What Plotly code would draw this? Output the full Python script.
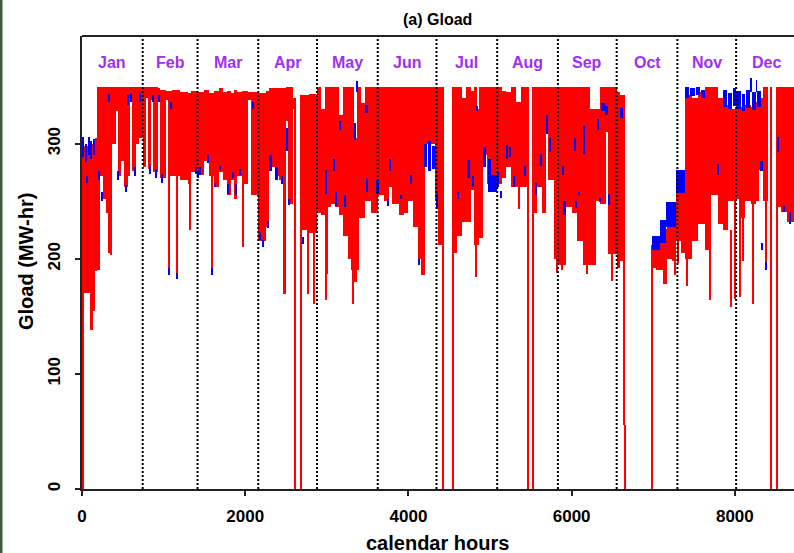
import plotly.graph_objects as go

# ---------------- data ----------------
# red series: piecewise segments (start hour, upper value, lower value)
red_start = [0, 100, 130, 160, 180, 215, 260, 300, 320, 345, 370, 420, 440, 480, 520, 560, 590, 615, 660, 700,
             744, 788, 808, 850, 870, 930, 950, 1032, 1052, 1100, 1200, 1300, 1340,
             1416, 1500, 1560, 1620, 1680, 1730, 1780, 1820, 1860, 1900, 1960, 2030, 2075,
             2160, 2250, 2290, 2360, 2420, 2465, 2500, 2530, 2580, 2615, 2680, 2780,
             2880, 2930, 2975, 3050, 3100, 3155, 3200, 3260, 3300, 3330, 3365, 3400, 3420, 3465, 3540,
             3624, 3700, 3760, 3800, 3880, 3940, 4000, 4060, 4120, 4160, 4200,
             4330, 4360, 4425, 4545, 4600, 4660, 4710, 4770, 4800, 4835, 4870, 4910, 4960,
             5088, 5150, 5200, 5262, 5320, 5385, 5466, 5527, 5580, 5640, 5690, 5712, 5790,
             5832, 5930, 6000, 6060, 6140, 6220, 6300, 6344, 6420, 6447, 6490,
             6550, 6590, 6660, 6990, 7030, 7080, 7120, 7165, 7225, 7285, 7340,
             7390, 7470, 7550, 7631, 7713, 7790, 7850, 7920,
             8016, 8080, 8125, 8200, 8265, 8300, 8345, 8410, 8515, 8560, 8640]
red_hi = [298, 300, 302, 305, 349, 349, 349, 349, 349, 349, 349, 349, 349, 349, 349, 349, 349, 349, 349, 349,
          349, 349, 349, 349, 349, 348, 347, 346, 346, 347, 345, 344, 346,
          345, 347, 344, 346, 348, 345, 346, 344, 347, 345, 346, 345, 345,
          344, 346, 348, 348, 348, 348, 349, 349, 340, 0, 342, 343,
          349, 330, 349, 349, 349, 325, 349, 349, 349, 305, 349, 349, 335, 349, 349,
          349, 349, 349, 349, 349, 349, 349, 349, 349, 349, 349,
          349, 349, 0, 349, 349, 340, 349, 346, 349, 330, 349, 349, 349,
          349, 346, 345, 349, 336, 349, 0, 349, 349, 349, 349, 349, 349,
          349, 349, 349, 349, 349, 330, 330, 349, 349, 349, 349,
          345, 342, 0, 212, 214, 222, 226, 234, 240, 257, 262,
          342, 340, 345, 349, 349, 340, 334, 330,
          330, 332, 334, 332, 336, 340, 349, 0, 349, 349, 349]
red_lo = [170, 138, 155, 189, 190, 272, 252, 240, 205, 203, 300, 328, 272, 285, 262, 272, 340, 276, 300, 305,
          280, 340, 278, 338, 275, 338, 270, 338, 272, 272, 268, 265, 275,
          273, 285, 272, 262, 275, 268, 255, 268, 252, 272, 265, 338, 255,
          215, 228, 280, 272, 268, 169, 320, 248, 330, 0, 225, 222,
          240, 238, 245, 248, 245, 238, 220, 200, 190, 180, 190, 235, 235, 250, 240,
          255, 250, 262, 248, 238, 240, 250, 228, 200, 186, 300,
          250, 212, 0, 205, 220, 232, 232, 260, 212, 212, 218, 290, 265,
          265, 270, 280, 262, 262, 262, 0, 240, 262, 240, 325, 268, 200,
          195, 245, 240, 215, 195, 195, 250, 248, 310, 204, 204,
          192, 198, 0, 192, 190, 190, 178, 200, 198, 215, 205,
          200, 215, 230, 208, 255, 230, 225, 250,
          252, 235, 250, 248, 250, 277, 250, 0, 245, 241, 232]
year_end = 8760

# narrow downward excursions of the red series (hour, lowest value, value they start from)
spike_hour = [20, 1066, 1168, 1330, 1593, 1973, 2615, 2680, 2770, 2845, 2990, 3010, 3320,
              4425, 4545, 4832, 5352, 5466, 5527, 5826, 5880, 6190, 6500, 6648, 6660, 6990,
              7265, 7310, 7420, 7700, 7950, 8000, 8060, 8100, 8230, 8380, 8448, 8513]
spike_low = [0, 190, 186, 225, 190, 210, 0, 0, 169, 161, 164, 187, 161,
             0, 0, 184, 243, 0, 0, 188, 190, 187, 181, 56, 0, 0,
             186, 196, 176, 164, 158, 165, 167, 198, 161, 192, 0, 0]
spike_top = [298, 272, 272, 265, 272, 272, 340, 342, 225, 222, 245, 245, 190,
             349, 349, 212, 262, 349, 349, 200, 195, 195, 204, 342, 56, 212,
             198, 215, 200, 208, 225, 250, 252, 235, 248, 250, 349, 349]

# blue series: places where it shows (start hour, end hour, lower value, upper value)
blue_start = [10, 38, 60, 70, 105, 135, 200, 245, 330, 440, 535, 555, 600, 640, 700,
              825, 855, 895, 940, 975, 1060, 1090, 1162, 1395,
              1420, 1445, 1535, 1588, 1620, 1680, 1785, 1845, 1885, 1925, 2085,
              2175, 2215, 2270, 2290, 2365, 2440, 2500, 2535, 2700,
              2975, 3085, 3110, 3155, 3215, 3335, 3362, 3480, 3490, 3600,
              3740, 3770, 3900, 4025, 4118, 4190, 4240, 4290,
              4344, 4600, 4720, 4780, 4840, 4914, 4975, 5016,
              5088, 5125, 5200, 5240, 5290, 5420, 5555, 5610, 5692, 5725,
              5895, 5890, 6038, 6050, 6090, 6140, 6320, 6340, 6365, 6406, 6455, 6595,
              6990, 7080, 7160, 7285,
              7390, 7455, 7525, 7585, 7790, 7850, 7912, 7972,
              8016, 8082, 8140, 8198, 8210, 8260, 8270, 8305, 8330, 8375, 8522, 8600, 8665]
blue_end = [30, 58, 70, 95, 125, 160, 215, 260, 345, 455, 548, 570, 615, 655, 712,
            840, 880, 910, 952, 990, 1072, 1104, 1174, 1410,
            1432, 1460, 1550, 1600, 1635, 1695, 1800, 1858, 1900, 1940, 2105,
            2190, 2230, 2285, 2330, 2400, 2460, 2520, 2550, 2715,
            3005, 3100, 3125, 3175, 3230, 3360, 3375, 3500, 3510, 3640,
            3755, 3790, 3915, 4045, 4140, 4230, 4280, 4335,
            4360, 4615, 4760, 4800, 4850, 4955, 5016, 5080,
            5110, 5140, 5220, 5262, 5305, 5440, 5570, 5640, 5710, 5740,
            5930, 5900, 6050, 6065, 6105, 6152, 6332, 6352, 6406, 6447, 6470, 6625,
            7080, 7160, 7285, 7390,
            7440, 7510, 7570, 7630, 7805, 7900, 7960, 8016,
            8070, 8130, 8190, 8208, 8255, 8268, 8325, 8345, 8345, 8392, 8538, 8618, 8680]
blue_lo = [288, 284, 266, 290, 287, 290, 268, 250, 336, 268, 258, 334, 336, 272, 336,
           274, 336, 270, 336, 266, 186, 330, 182, 274,
           270, 273, 283, 186, 262, 277, 256, 270, 255, 273, 330,
           216, 210, 227, 276, 268, 265, 294, 247, 213,
           256, 276, 246, 312, 245, 303, 345, 327, 258, 256,
           246, 276, 252, 265, 195, 280, 276, 278,
           243, 252, 270, 262, 328, 280, 258, 258,
           262, 253, 287, 288, 262, 272, 255, 281, 308, 293,
           238, 273, 294, 244, 255, 291, 312, 249, 328, 325, 247, 322,
           208, 214, 228, 257,
           340, 341, 342, 340, 273, 332, 330, 333,
           330, 328, 331, 345, 329, 345, 332, 276, 208, 190, 293, 241, 230]
blue_hi = [306, 300, 272, 306, 302, 304, 276, 258, 343, 276, 264, 342, 344, 280, 344,
           281, 342, 278, 342, 274, 192, 336, 188, 280,
           276, 280, 290, 192, 266, 281, 265, 275, 265, 278, 336,
           222, 216, 233, 290, 280, 272, 314, 252, 219,
           277, 287, 258, 320, 255, 318, 354, 334, 270, 268,
           252, 287, 255, 273, 200, 300, 302, 298,
           256, 258, 286, 272, 333, 297, 287, 273,
           275, 259, 299, 297, 272, 281, 266, 291, 325, 305,
           250, 281, 305, 250, 258, 315, 321, 253, 335, 333, 256, 331,
           220, 234, 249, 277,
           349, 348, 349, 347, 282, 347, 344, 348,
           346, 343, 347, 357, 345, 355, 346, 285, 214, 197, 306, 246, 241]

month_names = ["Jan", "Feb", "Mar", "Apr", "May", "Jun", "Jul", "Aug", "Sep", "Oct", "Nov", "Dec"]
month_start = [0, 744, 1416, 2160, 2880, 3624, 4344, 5088, 5832, 6552, 7296, 8016]
x_ticks = [0, 2000, 4000, 6000, 8000]
y_ticks = [0, 100, 200, 300]

# ---------------- layout constants ----------------
W, H = 794, 553
ML, MR, MT, MB = 82, 0, 36, 64
PW, PH = W - ML - MR, H - MT - MB
X_MAX = 8725
Y_MAX = 393.5
FONT = "Liberation Sans, Arial, Helvetica, sans-serif"
RED, BLUE, PURPLE = "#ff0000", "#0000ff", "#a030f0"

fig = go.Figure()

# red band
red_end = red_start[1:] + [year_end]
fig.add_trace(go.Bar(
    x=[(s + e) / 2 for s, e in zip(red_start, red_end)],
    y=[h - l for h, l in zip(red_hi, red_lo)],
    base=red_lo,
    width=[e - s for s, e in zip(red_start, red_end)],
    marker=dict(color=RED, line=dict(width=0)),
    hoverinfo="skip", showlegend=False))

# red narrow excursions
fig.add_trace(go.Bar(
    x=spike_hour,
    y=[t - l for t, l in zip(spike_top, spike_low)],
    base=spike_low,
    width=[17] * len(spike_hour),
    marker=dict(color=RED, line=dict(width=0)),
    hoverinfo="skip", showlegend=False))

# blue
fig.add_trace(go.Bar(
    x=[(s + e) / 2 for s, e in zip(blue_start, blue_end)],
    y=[h - l for h, l in zip(blue_hi, blue_lo)],
    base=blue_lo,
    width=[e - s for s, e in zip(blue_start, blue_end)],
    marker=dict(color=BLUE, line=dict(width=0)),
    hoverinfo="skip", showlegend=False))

# dotted month separators
vx, vy = [], []
for m in month_start[1:]:
    vx += [m, m, None]
    vy += [0, Y_MAX, None]
fig.add_trace(go.Scatter(x=vx, y=vy, mode="lines",
                         line=dict(color="black", width=2, dash="2px,2px"),
                         hoverinfo="skip", showlegend=False))

annotations = []
bounds = month_start + [year_end]
for i, name in enumerate(month_names):
    annotations.append(dict(
        x=(bounds[i] + bounds[i + 1]) / 2, xref="x",
        y=(H - MB - 63) / PH, yref="paper",
        text=name, showarrow=False, xanchor="center", yanchor="middle",
        font=dict(family=FONT, size=16, color=PURPLE, weight="bold")))

annotations.append(dict(x=(437 - ML) / PW, xref="paper", y=1 + (MT - 19) / PH, yref="paper",
                        text="(a) Gload", showarrow=False, xanchor="center", yanchor="middle",
                        font=dict(family=FONT, size=16, color="black", weight="bold")))
annotations.append(dict(x=(437 - ML) / PW, xref="paper", y=-(543 - (H - MB)) / PH, yref="paper",
                        text="calendar hours", showarrow=False, xanchor="center", yanchor="middle",
                        font=dict(family=FONT, size=20, color="black", weight="bold")))
annotations.append(dict(x=(26 - ML) / PW, xref="paper", y=(H - MB - 262) / PH, yref="paper",
                        text="Gload (MW-hr)", textangle=-90, showarrow=False,
                        xanchor="center", yanchor="middle",
                        font=dict(family=FONT, size=20, color="black", weight="bold")))

shapes = [
    dict(type="line", xref="paper", yref="paper", x0=0, x1=1, y0=1, y1=1,
         line=dict(color="#222222", width=2)),
    dict(type="rect", xref="paper", yref="paper",
         x0=-ML / PW, x1=-(ML - 2.5) / PW, y0=-MB / PH, y1=1 + MT / PH,
         fillcolor="#3b5b3b", line=dict(width=0)),
]

fig.update_layout(
    width=W, height=H,
    margin=dict(l=ML, r=MR, t=MT, b=MB, autoexpand=False),
    paper_bgcolor="white", plot_bgcolor="white",
    barmode="overlay", bargap=0,
    annotations=annotations, shapes=shapes,
    xaxis=dict(range=[0, X_MAX], tickvals=x_ticks, ticktext=[str(v) for v in x_ticks],
               showgrid=False, zeroline=False, showline=True, linecolor="#222222", linewidth=2,
               ticks="outside", ticklen=5, tickwidth=2, tickcolor="#222222",
               ticklabelstandoff=6,
               tickfont=dict(family=FONT, size=17, color="black", weight="bold"),
               automargin=False),
    yaxis=dict(range=[0, Y_MAX], tickvals=y_ticks, ticktext=[str(v) for v in y_ticks],
               showgrid=False, zeroline=False, showline=True, linecolor="#222222", linewidth=2,
               ticks="outside", ticklen=5, tickwidth=2, tickcolor="#222222",
               tickangle=-90, ticklabelstandoff=8,
               tickfont=dict(family=FONT, size=17, color="black", weight="bold"),
               automargin=False),
)

fig.write_html("out.html", config={"displayModeBar": False})
